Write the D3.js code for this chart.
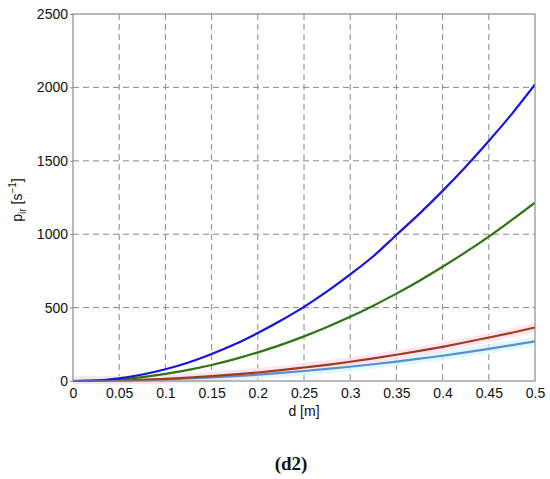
<!DOCTYPE html>
<html lang="en">
<head>
<meta charset="utf-8">
<title>p_ir vs d (d2)</title>
<script src="https://cdn.jsdelivr.net/npm/d3@7"></script>
<style>
  body { margin: 0; background: #fff; }
  svg text { font-family: "Liberation Sans", Arial, sans-serif; fill: #111; }
</style>
</head>
<body>
<div id="chart"></div>
<script>
// values, d step 0.025 m
var dVals = [0, 0.025, 0.05, 0.075, 0.1, 0.125, 0.15, 0.175, 0.2, 0.225, 0.25,
             0.275, 0.3, 0.325, 0.35, 0.375, 0.4, 0.425, 0.45, 0.475, 0.5];
var blueVals  = [0, 3, 18, 44, 80, 126, 184, 250, 327, 412, 505, 610, 726, 850, 995, 1140, 1295, 1460, 1635, 1820, 2020];
var greenVals = [0, 2, 11, 27, 49, 76, 109, 149, 195, 246, 304, 368, 437, 513, 595, 683, 778, 878, 984, 1097, 1215];
var redVals   = [0, 1, 4, 8, 15, 23, 33, 45, 58, 74, 92, 110, 131, 154, 179, 205, 233, 264, 296, 329, 365];
var cyanVals  = [0, 1, 3, 6, 11, 17, 24, 33, 43, 55, 68, 82, 97, 114, 132, 152, 172, 195, 219, 244, 270];
var xTicks = [0, 0.05, 0.1, 0.15, 0.2, 0.25, 0.3, 0.35, 0.4, 0.45, 0.5];
var yTicks = [0, 500, 1000, 1500, 2000, 2500];

var series = [
  { vals: cyanVals,  color: "#5a8fcc", halo: "#d4f7f8" },
  { vals: redVals,   color: "#a23c18", halo: "#fcdcef" },
  { vals: greenVals, color: "#2f7414", halo: null },
  { vals: blueVals,  color: "#1414e6", halo: null }
];

var w = 550, h = 479;
var pLeft = 73, pRight = 535, pTop = 14, pBottom = 381;

var svg = d3.select("#chart").append("svg")
  .attr("width", w).attr("height", h);

var x = d3.scaleLinear().domain([0, 0.5]).range([pLeft, pRight]);
var y = d3.scaleLinear().domain([0, 2500]).range([pBottom, pTop]);

// grid
svg.append("g").selectAll("line").data(xTicks.slice(1, -1)).enter().append("line")
  .attr("x1", d => x(d)).attr("x2", d => x(d))
  .attr("y1", pTop).attr("y2", pBottom)
  .attr("stroke", "#8a8a8a").attr("stroke-dasharray", "6,4");
svg.append("g").selectAll("line").data(yTicks.slice(1, -1)).enter().append("line")
  .attr("y1", d => y(d)).attr("y2", d => y(d))
  .attr("x1", pLeft).attr("x2", pRight)
  .attr("stroke", "#8a8a8a").attr("stroke-dasharray", "6,4");

var line = d3.line()
  .x((d, i) => x(dVals[i]))
  .y(d => y(d))
  .curve(d3.curveMonotoneX);

svg.append("clipPath").attr("id", "plotclip").append("rect")
  .attr("x", pLeft).attr("y", pTop).attr("width", pRight - pLeft).attr("height", pBottom - pTop + 3);

var lines = svg.append("g").attr("clip-path", "url(#plotclip)");

// faint wide bands around the two lower lines
series.forEach(function(s) {
  if (!s.halo) return;
  lines.append("path").attr("d", line(s.vals))
    .attr("fill", "none").attr("stroke", s.halo)
    .attr("stroke-width", 9).attr("opacity", 0.75);
});
series.forEach(function(s) {
  lines.append("path").attr("d", line(s.vals))
    .attr("fill", "none").attr("stroke", s.color)
    .attr("stroke-width", 2.2);
});

// box
svg.append("rect")
  .attr("x", pLeft).attr("y", pTop)
  .attr("width", pRight - pLeft).attr("height", pBottom - pTop)
  .attr("fill", "none").attr("stroke", "#8c8c8c").attr("stroke-width", 1.2);

// axes
var yAxis = d3.axisLeft(y).tickValues(yTicks).tickSize(3).tickPadding(2).tickFormat(d3.format("d"));
var gy = svg.append("g").attr("transform", "translate(" + pLeft + ",0)").call(yAxis);
gy.select(".domain").remove();
gy.selectAll("line").attr("stroke", "#8c8c8c");
gy.selectAll("text").attr("font-size", 14).style("font-family", "'Liberation Sans', Arial, sans-serif");

var xAxis = d3.axisBottom(x).tickValues(xTicks).tickSize(0).tickPadding(7)
  .tickFormat(d => String(d));
var gx = svg.append("g").attr("transform", "translate(0," + pBottom + ")").call(xAxis);
gx.select(".domain").remove();
gx.selectAll("text").attr("font-size", 14).style("font-family", "'Liberation Sans', Arial, sans-serif");

// axis titles
svg.append("text")
  .attr("x", x(0.25)).attr("y", 416)
  .attr("text-anchor", "middle").attr("font-size", 14)
  .text("d [m]");

var yl = svg.append("text")
  .attr("transform", "translate(22,200) rotate(-90)")
  .attr("text-anchor", "middle").attr("font-size", 14);
yl.append("tspan").text("p");
yl.append("tspan").attr("font-size", 10).attr("dy", 4).text("ir");
yl.append("tspan").attr("dy", -4).text(" [s");
yl.append("tspan").attr("font-size", 10).attr("dy", -6).text("\u22121");
yl.append("tspan").attr("dy", 6).text("]");

svg.append("text")
  .attr("x", 291).attr("y", 470)
  .attr("text-anchor", "middle")
  .attr("font-size", 19).attr("font-weight", "bold")
  .style("font-family", "'Liberation Serif', 'Times New Roman', serif")
  .text("(d2)");
</script>
</body>
</html>
